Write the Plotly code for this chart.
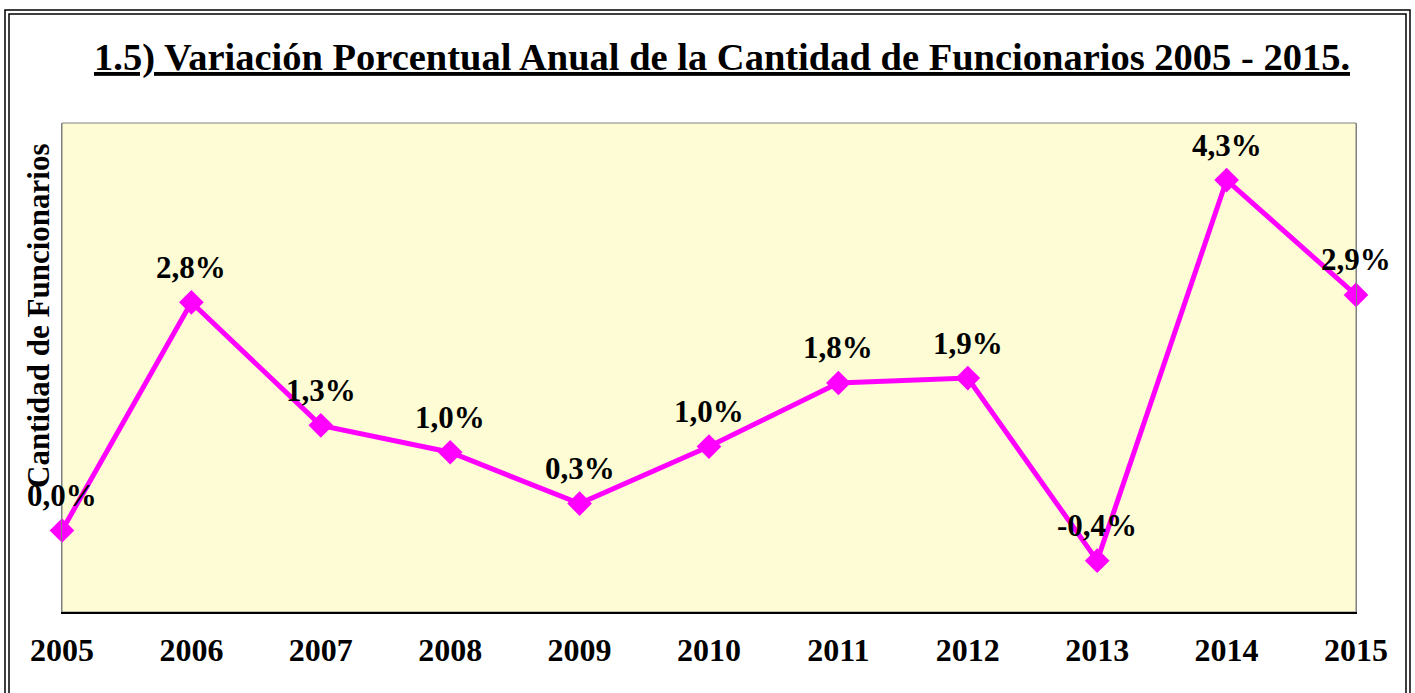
import plotly.graph_objects as go

# data
years = [2005, 2006, 2007, 2008, 2009, 2010, 2011, 2012, 2013, 2014, 2015]
variation = [0.0, 2.8, 1.29, 0.96, 0.33, 1.03, 1.81, 1.87, -0.37, 4.3, 2.89]
labels = [f"{v:.1f}%".replace(".", ",") for v in variation]

W, H = 1415, 693
L, R, T, B = 62, 59, 123, 81
pw, ph = W - L - R, H - T - B

# pixel -> paper helpers for the frame and text placed outside the plot
def px_x(x):
    return (x - L) / pw

def px_y(y):
    return (H - B - y) / ph

serif = "Liberation Serif, Times New Roman, serif"

fig = go.Figure()
fig.add_trace(go.Scatter(
    x=years, y=variation,
    mode="lines+markers",
    line=dict(color="#FF00FF", width=5),
    marker=dict(symbol="diamond", size=19, color="#FF00FF"),
    cliponaxis=False,
    hoverinfo="skip",
))

for yr, v, lab in zip(years, variation, labels):
    fig.add_annotation(x=yr, y=v, text="<b>" + lab + "</b>", showarrow=False,
                       xanchor="center", yanchor="middle", yshift=35,
                       font=dict(family=serif, size=31, color="black"))

fig.add_annotation(
    x=px_x(38), y=px_y(316), xref="paper", yref="paper",
    xanchor="center", yanchor="middle",
    text="<b>Cantidad de Funcionarios</b>", textangle=-90, showarrow=False,
    font=dict(family=serif, size=31, color="black"))

fig.add_annotation(
    x=px_x(722), y=px_y(58), xref="paper", yref="paper",
    xanchor="center", yanchor="middle",
    text="<b><u>1.5) Variación Porcentual Anual de la Cantidad de Funcionarios 2005 - 2015.</u></b>",
    showarrow=False, font=dict(family=serif, size=38.5, color="black"))

# double frame around the chart
fig.add_shape(type="rect", xref="paper", yref="paper",
              x0=px_x(5), x1=px_x(1410), y0=px_y(700), y1=px_y(10),
              line=dict(color="black", width=1.5))
fig.add_shape(type="rect", xref="paper", yref="paper",
              x0=px_x(9), x1=px_x(1406), y0=px_y(700), y1=px_y(14),
              line=dict(color="black", width=1.5))

fig.update_layout(
    width=W, height=H,
    margin=dict(l=L, r=R, t=T, b=B),
    paper_bgcolor="white",
    plot_bgcolor="#FDFCD4",
    showlegend=False,
    font=dict(family=serif, color="black"),
)
fig.update_xaxes(
    range=[2005, 2015], tickvals=years,
    ticktext=["<b>%d</b>" % y for y in years],
    tickfont=dict(family=serif, size=32, color="black"),
    ticks="outside", ticklen=9, tickcolor="rgba(0,0,0,0)",
    showgrid=False, zeroline=False,
    showline=True, linecolor="black", linewidth=1.5, mirror=False,
)
fig.update_yaxes(
    range=[-1, 5], showticklabels=False, showgrid=False, zeroline=False,
    showline=True, linecolor="#808080", linewidth=1, mirror=True,
)
fig.add_shape(type="rect", xref="paper", yref="paper", x0=0, x1=1, y0=0, y1=1,
              line=dict(color="#808080", width=1), layer="below")

# drop the page's default body margin so the chart sits at the window corner
fig.write_html("out.html", config={"displayModeBar": False},
               post_script="document.body.style.margin='0';")
